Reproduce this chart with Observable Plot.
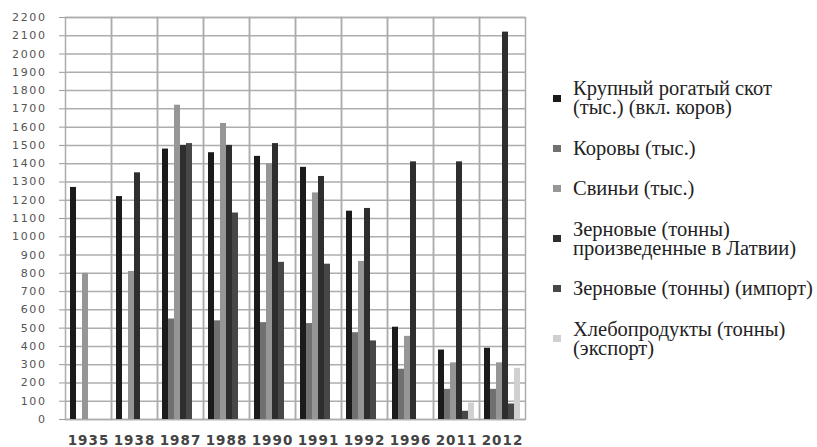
<!DOCTYPE html>
<html>
<head>
<meta charset="utf-8">
<script src="https://cdn.jsdelivr.net/npm/d3@7"></script>
<script src="https://cdn.jsdelivr.net/npm/@observablehq/plot@0.6"></script>
<style>
  html, body { margin: 0; padding: 0; background: #fff; }
  #wrap { position: relative; width: 817px; height: 447px; overflow: hidden; }
  #legend {
    position: absolute; left: 553px; top: 79px;
    display: flex; flex-direction: column; gap: 21.6px;
    font-size: 20.5px; line-height: 19px; color: #222;
  }
  .item { display: flex; align-items: center; }
  .sw { width: 8px; height: 7px; flex: none; margin-right: 12px; }
  .lbl { white-space: pre; }
</style>
</head>
<body>
<div id="wrap"><div id="chart"></div><div id="legend" style="font-family:'Liberation Serif'"></div></div>
<script>
const years = ["1935", "1938", "1987", "1988", "1990", "1991", "1992", "1996", "2011", "2012"];
const seriesNames = [
  "Крупный рогатый скот (тыс.) (вкл. коров)",
  "Коровы (тыс.)",
  "Свиньи (тыс.)",
  "Зерновые (тонны) произведенные в Латвии)",
  "Зерновые (тонны) (импорт)",
  "Хлебопродукты (тонны) (экспорт)"
];
const legendLines = [
  "Крупный рогатый скот\n(тыс.) (вкл. коров)",
  "Коровы (тыс.)",
  "Свиньи (тыс.)",
  "Зерновые (тонны)\nпроизведенные в Латвии)",
  "Зерновые (тонны) (импорт)",
  "Хлебопродукты (тонны)\n(экспорт)"
];
const cattle        = [1270, 1220, 1480, 1460, 1440, 1380, 1140, 505, 380, 390];
const cows          = [null, null, 550, 540, 530, 525, 475, 275, 165, 165];
const pigs          = [800, 810, 1720, 1620, 1400, 1240, 865, 455, 310, 310];
const grainProduced = [null, 1350, 1500, 1500, 1510, 1330, 1155, 1410, 1410, 2120];
const grainImport   = [null, null, 1510, 1130, 860, 850, 430, null, 45, 85];
const breadExport   = [null, null, null, null, null, null, null, null, 90, 280];
const yTicks = d3.range(0, 2201, 100);

const seriesValues = [cattle, cows, pigs, grainProduced, grainImport, breadExport];
const colors = ["#1b1b1b", "#707070", "#969696", "#2e2e2e", "#474747", "#d0d0d0"];

const rows = [];
seriesValues.forEach((vals, si) => {
  vals.forEach((v, yi) => {
    if (v != null) rows.push({year: years[yi], series: seriesNames[si], value: v});
  });
});

const chart = Plot.plot({
  width: 530,
  height: 447,
  marginLeft: 64,
  marginRight: 5,
  marginTop: 17,
  marginBottom: 28,
  style: {fontFamily: "DejaVu Sans", background: "#fff"},
  fx: {domain: years, padding: 0, label: null},
  x: {domain: seriesNames, paddingInner: 0, paddingOuter: 0.6, axis: null},
  y: {domain: [0, 2200], label: null},
  color: {domain: seriesNames, range: colors},
  marks: [
    Plot.gridY(yTicks, {stroke: "#adadad", strokeOpacity: 1, strokeWidth: 1.5}),
    Plot.frame({stroke: "#adadad", strokeWidth: 1.5}),
    Plot.barY(rows, {fx: "year", x: "series", y: "value", fill: "series"}),
    Plot.axisY(yTicks, {tickSize: 6, tickPadding: 13, stroke: "#9a9a9a", fill: "#555", fontSize: 11, label: null, tickFormat: d => String(d)}),
    Plot.axisFx({anchor: "bottom", tickSize: 0, tickPadding: 16, fontSize: 13.5, fill: "#444", label: null})
  ]
});
document.getElementById("chart").appendChild(chart);

d3.select(chart).selectAll("g[aria-label='y-axis tick label'] text").style("letter-spacing", "1.6px");
d3.select(chart).selectAll("g[aria-label='fx-axis tick label'] text").style("letter-spacing", "1px").style("font-weight", "600");

const legend = d3.select("#legend");
seriesNames.forEach((s, i) => {
  const item = legend.append("div").attr("class", "item");
  item.append("div").attr("class", "sw").style("background", colors[i]);
  item.append("div").attr("class", "lbl").style("font-family", "'Liberation Serif', serif").text(legendLines[i]);
});
</script>
</body>
</html>
